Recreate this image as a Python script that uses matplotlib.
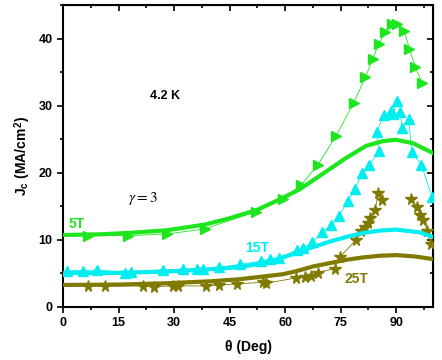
import numpy as np
import matplotlib
matplotlib.use("Agg")
import matplotlib.pyplot as plt
from matplotlib.ticker import MultipleLocator

plt.rcParams['font.family'] = ['Liberation Sans', 'DejaVu Sans']
plt.rcParams['mathtext.fontset'] = 'stix'

# 5 T data
x5 = [6.8, 17.6, 28, 38.3, 52.2, 59.4, 64.4, 68.9, 73.8, 78.5, 81.7, 83.7, 85.3, 87.1, 88.9, 90.3, 92.2, 93.6, 95.2, 97]
y5 = [10.6, 10.6, 10.85, 11.6, 14.2, 16, 18.2, 21.2, 25.5, 30.4, 34.2, 37, 39.2, 41, 42.1, 42.1, 41.1, 38.5, 35.7, 33.4]
# 15 T data
x15 = [1, 5.5, 9.3, 16.7, 18.3, 26.9, 32.3, 36.1, 37.7, 42.2, 47.7, 53.6, 55.8, 58.4, 63.3, 64.8, 67.4,
       70.1, 72.5, 74.6, 77, 78.9, 80.9, 82.8, 85.3, 84.8, 86.6, 88.7, 90.2, 89.1, 91.1, 91.6, 93.4, 94.2, 96.8, 99.7]
y15 = [5.4, 5.4, 5.5, 5.1, 5.2, 5.5, 5.6, 5.6, 5.7, 5.9, 6.3, 6.8, 7.1, 7.2, 8.5, 8.7, 9.7,
       11.1, 12.2, 13.6, 15.8, 17.6, 20, 21.2, 23.2, 26, 28.6, 29.2, 30.7, 28.7, 29, 26.6, 28, 23.1, 21.2, 16.4]
# 25 T data
x25 = [6.8, 11.3, 21.5, 24.6, 29.6, 31.1, 38.6, 42.2, 47, 54, 54.9, 63, 65.4, 67.1, 68.9, 73.4, 74.7,
       79.1, 80.4, 81.5, 82.4, 83, 84.3, 85.2, 86.1, np.nan, 94, 95.7, 96.4, 97.3, 98.4, 99.3]
y25 = [3.1, 3.1, 3.1, 3.0, 3.1, 3.1, 3.1, 3.2, 3.4, 3.65, 3.5, 4.3, 4.5, 4.6, 5.1, 5.7, 7.4,
       9.9, 11.3, 11.9, 12.5, 13.25, 14.5, 16.9, 15.9, np.nan, 16, 14.9, 13.75, 12.9, 11.3, 9.3]

# fit curves (gamma = 3)
xf5 = [0, 10, 17.6, 28, 38.3, 45, 52.2, 58.5, 63.9, 69.3, 76.5, 81.9, 86.4, 90, 94.5, 100]
yf5 = [10.7, 10.8, 11.0, 11.4, 12.25, 13.2, 14.4, 16.0, 17.5, 19.5, 22.2, 24.0, 24.7, 24.9, 24.4, 22.9]
xf15 = [0, 15, 28, 40, 47.7, 53, 58.5, 63, 67.5, 72, 76.5, 81, 85.5, 90, 96.3, 100]
yf15 = [5.0, 5.05, 5.25, 5.6, 5.9, 6.4, 7.2, 8.0, 8.9, 9.7, 10.4, 11.0, 11.35, 11.5, 11.1, 10.4]
xf25 = [0, 15, 28, 40, 47.7, 54, 59.4, 63, 67.5, 72, 76.5, 81, 85.5, 90, 95, 100]
yf25 = [3.25, 3.3, 3.5, 3.8, 4.1, 4.5, 4.85, 5.3, 6.0, 6.5, 7.0, 7.35, 7.6, 7.7, 7.5, 7.1]

xticks = [0, 15, 30, 45, 60, 75, 90]
yticks = [0, 10, 20, 30, 40]

green = '#1EE61E'
cyan = '#00EEF0'
olive = '#807A00'

fig = plt.figure(figsize=(4.42, 3.60), dpi=100)
ax = fig.add_axes([0.1425, 0.148, 0.8375, 0.838])

ax.plot(x5, y5, '-', color=green, lw=0.6, marker='>', ms=7.5, mec=green, mfc=green, zorder=3)
ax.plot(x15, y15, '-', color=cyan, lw=0.6, marker='^', ms=7.5, mec=cyan, mfc=cyan, zorder=3)
ax.plot(x25, y25, '-', color=olive, lw=0.6, marker='*', ms=8.5, mec=olive, mfc=olive, zorder=3)

ax.plot(xf5, yf5, '-', color=green, lw=3, zorder=4)
ax.plot(xf15, yf15, '-', color=cyan, lw=3, zorder=4)
ax.plot(xf25, yf25, '-', color=olive, lw=3, zorder=4)

ax.set_xlim(0, 100)
ax.set_ylim(0, 45)
ax.set_xticks(xticks)
ax.set_yticks(yticks)
ax.xaxis.set_minor_locator(MultipleLocator(7.5))
ax.yaxis.set_minor_locator(MultipleLocator(5))

for lab in ax.get_xticklabels() + ax.get_yticklabels():
    lab.set_fontweight('bold')
    lab.set_fontsize(9)

ax.tick_params(which='both', direction='out', width=1.2)
ax.tick_params(which='major', length=4)
ax.tick_params(which='minor', length=2)
for s in ax.spines.values():
    s.set_linewidth(1.5)

axt = ax.secondary_xaxis('top')
axt.set_xticks(xticks)
axt.xaxis.set_minor_locator(MultipleLocator(7.5))
axt.tick_params(which='both', direction='in', labeltop=False, width=1.2)
axt.tick_params(which='major', length=4)
axt.tick_params(which='minor', length=2)
axr = ax.secondary_yaxis('right')
axr.set_yticks(yticks)
axr.yaxis.set_minor_locator(MultipleLocator(5))
axr.tick_params(which='both', direction='in', labelright=False, width=1.2)
axr.tick_params(which='major', length=4)
axr.tick_params(which='minor', length=2)

ax.set_xlabel('θ (Deg)', fontweight='bold', fontsize=10, labelpad=8)
ax.set_ylabel(r'J$_\mathregular{c}$ (MA/cm$^\mathregular{2}$)', fontweight='bold', fontsize=10, labelpad=4)

ax.text(27.5, 31.4, '4.2 K', fontweight='bold', fontsize=9, ha='center', va='center')
ax.text(21.6, 16.1, r'$\gamma = 3$', fontsize=11, ha='center', va='center')
ax.text(3.8, 12.4, '5T', color=green, fontweight='bold', fontsize=10, ha='center', va='center')
ax.text(52.3, 8.8, '15T', color=cyan, fontweight='bold', fontsize=10, ha='center', va='center')
ax.text(79.3, 4.2, '25T', color=olive, fontweight='bold', fontsize=10, ha='center', va='center')

fig.savefig('out.png', dpi=100)
